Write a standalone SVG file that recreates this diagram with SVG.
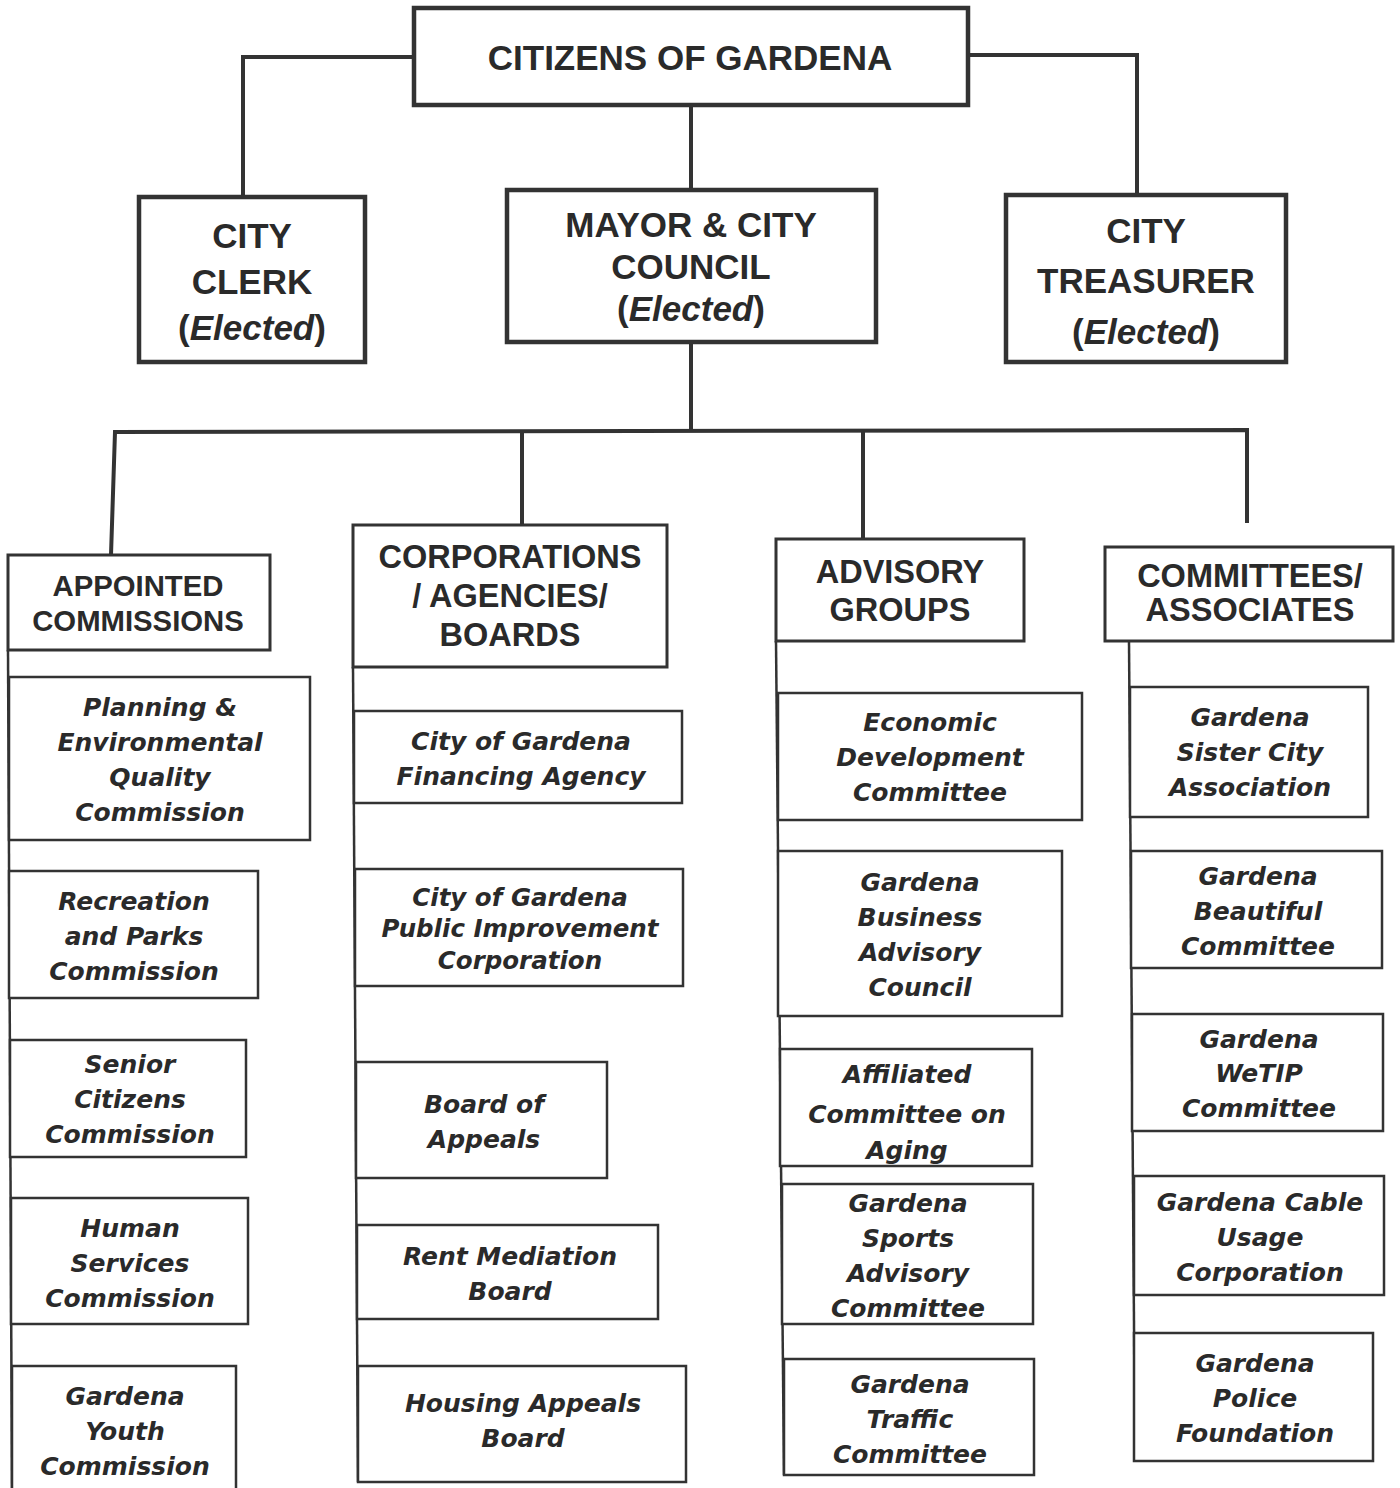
<svg xmlns="http://www.w3.org/2000/svg" width="1400" height="1488" viewBox="0 0 1400 1488">
<style>
.bg{fill:#fff}
.top{fill:#fff;stroke:#333;stroke-width:4.5}
.hdr{fill:#fff;stroke:#333;stroke-width:3}
.item{fill:#fff;stroke:#333;stroke-width:2.5}
.conn{fill:none;stroke:#333;stroke-width:4}
.spine{fill:none;stroke:#333;stroke-width:2.5}
.t1{font-family:"Liberation Sans",Arial,sans-serif;font-weight:bold;font-size:35px;fill:#2a2a2a;text-anchor:middle}
.t2{font-family:"Liberation Sans",Arial,sans-serif;font-weight:bold;font-size:32.5px;fill:#2a2a2a;text-anchor:middle}
.t3{font-family:"DejaVu Sans",Verdana,sans-serif;font-weight:bold;font-style:italic;font-size:25px;fill:#2a2a2a;text-anchor:middle}
.it{font-style:italic}
</style>
<rect class="bg" x="0" y="0" width="1400" height="1488"/>
<g id="connectors">
<polyline class="conn" points="413,57 243,57 243,197"/>
<polyline class="conn" points="968,55 1137,55 1137,195"/>
<line class="conn" x1="691" y1="105" x2="691" y2="190"/>
<line class="conn" x1="691" y1="342" x2="691" y2="432"/>
<polyline class="conn" points="111,555 115,432 1247,430 1247,523"/>
<line class="conn" x1="522" y1="432" x2="522" y2="525"/>
<line class="conn" x1="863" y1="431" x2="863" y2="539"/>
<line class="spine" x1="8" y1="650" x2="12" y2="1488"/>
<line class="spine" x1="353" y1="667" x2="358" y2="1482"/>
<line class="spine" x1="776" y1="641" x2="784" y2="1475"/>
<line class="spine" x1="1129" y1="641" x2="1135" y2="1461"/>
</g>
<g id="citizens"><rect class="top" x="414" y="8" width="554" height="97"/><text class="t1" x="690" y="70">CITIZENS OF GARDENA</text></g>
<g id="clerk"><rect class="top" x="139" y="197" width="226" height="165"/><text class="t1" x="252" y="248">CITY</text><text class="t1" x="252" y="294">CLERK</text><text class="t1" x="252" y="340">(<tspan class="it">Elected</tspan>)</text></g>
<g id="mayor"><rect class="top" x="507" y="190" width="369" height="152"/><text class="t1" x="691" y="237">MAYOR &amp; CITY</text><text class="t1" x="691" y="279">COUNCIL</text><text class="t1" x="691" y="321">(<tspan class="it">Elected</tspan>)</text></g>
<g id="treasurer"><rect class="top" x="1006" y="195" width="280" height="167"/><text class="t1" x="1146" y="243">CITY</text><text class="t1" x="1146" y="293">TREASURER</text><text class="t1" x="1146" y="344">(<tspan class="it">Elected</tspan>)</text></g>

<g id="appointed"><rect class="hdr" x="8" y="555" width="262" height="95"/><text class="t2" x="138" y="596" style="font-size:29.3px">APPOINTED</text><text class="t2" x="138" y="631" style="font-size:29.3px">COMMISSIONS</text></g>
<g id="corporations"><rect class="hdr" x="353" y="525" width="314" height="142"/><text class="t2" x="510" y="568">CORPORATIONS</text><text class="t2" x="510" y="607">/ AGENCIES/</text><text class="t2" x="510" y="646">BOARDS</text></g>
<g id="advisory"><rect class="hdr" x="776" y="539" width="248" height="102"/><text class="t2" x="900" y="583">ADVISORY</text><text class="t2" x="900" y="621">GROUPS</text></g>
<g id="committees"><rect class="hdr" x="1105" y="547" width="288" height="94"/><text class="t2" x="1250" y="587">COMMITTEES/</text><text class="t2" x="1250" y="621">ASSOCIATES</text></g>

<g id="planning"><rect class="item" x="9" y="677" width="301" height="163"/><text class="t3" x="160" y="716">Planning &amp;</text><text class="t3" x="160" y="751">Environmental</text><text class="t3" x="160" y="786">Quality</text><text class="t3" x="160" y="821">Commission</text></g>
<g id="recreation"><rect class="item" x="9" y="871" width="249" height="127"/><text class="t3" x="134" y="910">Recreation</text><text class="t3" x="134" y="945">and Parks</text><text class="t3" x="134" y="980">Commission</text></g>
<g id="senior"><rect class="item" x="10" y="1040" width="236" height="117"/><text class="t3" x="130" y="1073">Senior</text><text class="t3" x="130" y="1108">Citizens</text><text class="t3" x="130" y="1143">Commission</text></g>
<g id="human"><rect class="item" x="11" y="1198" width="237" height="126"/><text class="t3" x="130" y="1237">Human</text><text class="t3" x="130" y="1272">Services</text><text class="t3" x="130" y="1307">Commission</text></g>
<g id="youth"><rect class="item" x="12" y="1366" width="224" height="130"/><text class="t3" x="125" y="1405">Gardena</text><text class="t3" x="125" y="1440">Youth</text><text class="t3" x="125" y="1475">Commission</text></g>

<g id="financing"><rect class="item" x="354" y="711" width="328" height="92"/><text class="t3" x="521" y="750">City of Gardena</text><text class="t3" x="521" y="785">Financing Agency</text></g>
<g id="improvement"><rect class="item" x="355" y="869" width="328" height="117"/><text class="t3" x="520" y="906" style="font-size:24.5px">City of Gardena</text><text class="t3" x="520" y="937" style="font-size:24.5px">Public Improvement</text><text class="t3" x="520" y="969" style="font-size:24.5px">Corporation</text></g>
<g id="boardofappeals"><rect class="item" x="356" y="1062" width="251" height="116"/><text class="t3" x="484" y="1113">Board of</text><text class="t3" x="484" y="1148">Appeals</text></g>
<g id="rent"><rect class="item" x="357" y="1225" width="301" height="94"/><text class="t3" x="510" y="1265">Rent Mediation</text><text class="t3" x="510" y="1300">Board</text></g>
<g id="housing"><rect class="item" x="358" y="1366" width="328" height="116"/><text class="t3" x="523" y="1412">Housing Appeals</text><text class="t3" x="523" y="1447">Board</text></g>

<g id="economic"><rect class="item" x="778" y="693" width="304" height="127"/><text class="t3" x="930" y="731">Economic</text><text class="t3" x="930" y="766">Development</text><text class="t3" x="930" y="801">Committee</text></g>
<g id="business"><rect class="item" x="778" y="851" width="284" height="165"/><text class="t3" x="920" y="891">Gardena</text><text class="t3" x="920" y="926">Business</text><text class="t3" x="920" y="961">Advisory</text><text class="t3" x="920" y="996">Council</text></g>
<g id="aging"><rect class="item" x="780" y="1049" width="252" height="117"/><text class="t3" x="907" y="1083">Affiliated</text><text class="t3" x="907" y="1123">Committee on</text><text class="t3" x="907" y="1159">Aging</text></g>
<g id="sports"><rect class="item" x="782" y="1184" width="251" height="140"/><text class="t3" x="908" y="1212">Gardena</text><text class="t3" x="908" y="1247">Sports</text><text class="t3" x="908" y="1282">Advisory</text><text class="t3" x="908" y="1317">Committee</text></g>
<g id="traffic"><rect class="item" x="784" y="1359" width="250" height="116"/><text class="t3" x="910" y="1393">Gardena</text><text class="t3" x="910" y="1428">Traffic</text><text class="t3" x="910" y="1463">Committee</text></g>

<g id="sistercity"><rect class="item" x="1130" y="687" width="238" height="130"/><text class="t3" x="1250" y="726">Gardena</text><text class="t3" x="1250" y="761">Sister City</text><text class="t3" x="1250" y="796">Association</text></g>
<g id="beautiful"><rect class="item" x="1131" y="851" width="251" height="117"/><text class="t3" x="1258" y="885">Gardena</text><text class="t3" x="1258" y="920">Beautiful</text><text class="t3" x="1258" y="955">Committee</text></g>
<g id="wetip"><rect class="item" x="1132" y="1014" width="251" height="117"/><text class="t3" x="1259" y="1048">Gardena</text><text class="t3" x="1259" y="1082">WeTIP</text><text class="t3" x="1259" y="1117">Committee</text></g>
<g id="cable"><rect class="item" x="1134" y="1176" width="250" height="119"/><text class="t3" x="1260" y="1211">Gardena Cable</text><text class="t3" x="1260" y="1246">Usage</text><text class="t3" x="1260" y="1281">Corporation</text></g>
<g id="police"><rect class="item" x="1134" y="1333" width="239" height="128"/><text class="t3" x="1255" y="1372">Gardena</text><text class="t3" x="1255" y="1407">Police</text><text class="t3" x="1255" y="1442">Foundation</text></g>
</svg>
